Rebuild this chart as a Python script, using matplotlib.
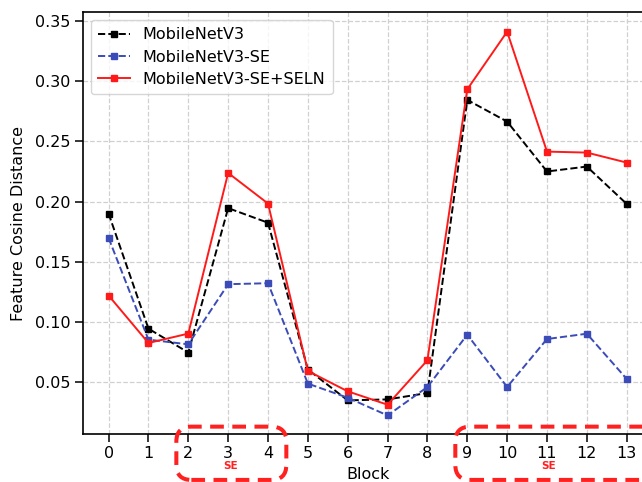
import matplotlib
matplotlib.use("Agg")
import matplotlib.pyplot as plt
from matplotlib.patches import FancyBboxPatch
from matplotlib.transforms import IdentityTransform

blocks = list(range(14))
mnv3 = [0.190, 0.0945, 0.0747, 0.1945, 0.1824, 0.0606, 0.035, 0.0358, 0.0411,
        0.2843, 0.2663, 0.2249, 0.229, 0.198]
mnv3_se = [0.1697, 0.0854, 0.0815, 0.1314, 0.1322, 0.0489, 0.0372, 0.0225, 0.0461,
           0.0895, 0.0461, 0.0859, 0.0903, 0.0528]
mnv3_se_seln = [0.122, 0.0826, 0.0904, 0.2237, 0.1983, 0.0594, 0.0425, 0.0314, 0.0683,
                0.2931, 0.3409, 0.2414, 0.2406, 0.2323]
se_groups = [(2, 4), (9, 13)]
se_label = "SE"

plt.rcParams['font.family'] = ['DejaVu Sans']
fs = 11.5
fig = plt.figure(figsize=(6.42, 4.82), dpi=100)
ax = fig.add_axes([0.1288, 0.0996, 1.0165 - 0.1288, 0.9745 - 0.0996])

ax.plot(blocks, mnv3, color='black', linestyle='--', marker='s', markersize=3.8,
        linewidth=1.4, label='MobileNetV3')
ax.plot(blocks, mnv3_se, color='#3b4cb8', linestyle='--', marker='s', markersize=3.8,
        linewidth=1.4, label='MobileNetV3-SE')
ax.plot(blocks, mnv3_se_seln, color='#ff1a1a', linestyle='-', marker='s', markersize=3.8,
        linewidth=1.4, label='MobileNetV3-SE+SELN')

ax.set_xlim(-0.65, 13.65)
ax.set_ylim(0.0071, 0.357)
ax.set_xticks(blocks)
ax.set_yticks([0.05, 0.10, 0.15, 0.20, 0.25, 0.30, 0.35])
ax.tick_params(labelsize=fs, length=5.5, width=1.1)
ax.grid(True, linestyle='--', color='#d0d0d0', linewidth=0.9)
for s in ax.spines.values():
    s.set_linewidth(1.2)
ax.set_xlabel('Block', fontsize=fs, labelpad=4)
ax.set_ylabel('Feature Cosine Distance', fontsize=fs, labelpad=6)
leg = ax.legend(loc='upper left', fontsize=fs, framealpha=0.8, borderpad=0.45,
                handlelength=2.0, labelspacing=0.45)

fig.canvas.draw()
for (a, b) in se_groups:
    x0 = ax.transData.transform((a - 0.3, 0.0132))
    x1 = ax.transData.transform((b + 0.46, -0.031))
    left, top = x0
    right, bottom = x1
    if b == 13:
        right = right + 40
    p = FancyBboxPatch((left, bottom), right - left, top - bottom,
                       boxstyle="round,pad=0,rounding_size=15",
                       transform=IdentityTransform(), fill=False,
                       edgecolor='#ff2020', linewidth=2.9, linestyle=(0, (3.4, 2.1)),
                       clip_on=False)
    fig.patches.append(p)
    xm = (a + b) / 2 + 0.05
    ax.text(xm, -0.0195, se_label, color='#ff2020', fontsize=7.5, fontweight='bold',
            ha='center', va='center', clip_on=False)

fig.savefig('out.png', dpi=100)
